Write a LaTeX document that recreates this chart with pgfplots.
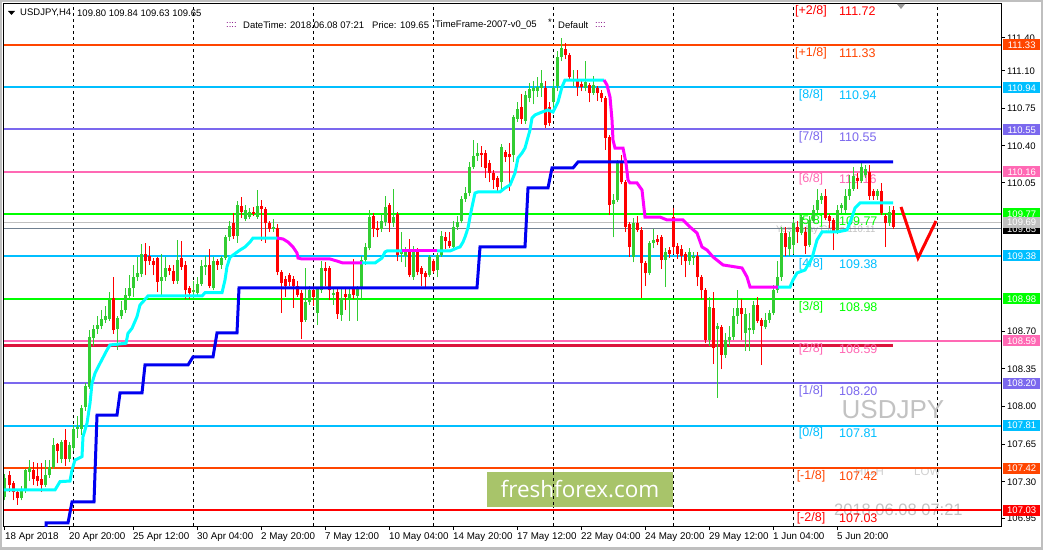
\documentclass[border=0pt]{standalone}
\usepackage{fontspec}
\setmainfont{Liberation Sans}
\newfontfamily\osans{Open Sans}
\usepackage{pgfplots}
\usepackage{pgfplotstable}
\pgfplotsset{compat=1.18}

\definecolor{lvOrange}{HTML}{FF4500}
\definecolor{lvSky}{HTML}{00BFFF}
\definecolor{lvSlate}{HTML}{7B68EE}
\definecolor{lvPink}{HTML}{FF69B4}
\definecolor{lvLime}{HTML}{00FF00}
\definecolor{lvRed}{HTML}{FF0000}
\definecolor{lvCrimson}{HTML}{DC143C}
\definecolor{bidGray}{HTML}{708090}
\definecolor{lineSilver}{HTML}{C0C0C0}
\definecolor{upC}{HTML}{32CD32}
\definecolor{dnC}{HTML}{FF0000}
\definecolor{stepBlue}{HTML}{0000F0}
\definecolor{trUp}{HTML}{00FFFF}
\definecolor{trDn}{HTML}{FF00FF}
\definecolor{wmGreen}{HTML}{A8C46A}
\definecolor{txtGray}{HTML}{C2C2C2}
\definecolor{hlGray}{HTML}{D0D0D0}
\definecolor{dotPurple}{HTML}{800080}

% H4 candles closing up (c >= o): x = bar position, o h l c
\pgfplotstableread{
x o h l c
5 107.15 107.36 107.12 107.33
21 107.14 107.25 107.12 107.21
25 107.21 107.41 107.19 107.40
29 107.38 107.49 107.30 107.42
45 107.26 107.49 107.24 107.35
49 107.35 107.49 107.33 107.43
53 107.43 107.70 107.41 107.63
61 107.50 107.68 107.46 107.66
69 107.50 107.66 107.47 107.63
73 107.60 107.82 107.58 107.78
77 107.78 107.90 107.70 107.80
81 107.78 108.00 107.72 107.97
85 107.98 108.20 107.95 108.18
89 108.17 108.69 108.15 108.63
93 108.62 108.74 108.55 108.70
97 108.70 108.82 108.66 108.74
101 108.73 108.88 108.70 108.80
105 108.79 108.92 108.76 108.82
109 108.80 109.05 108.78 108.97
117 108.70 108.82 108.51 108.81
121 108.82 108.96 108.80 108.88
125 108.88 109.08 108.85 109.02
129 109.01 109.20 108.98 109.08
133 109.08 109.30 109.00 109.18
137 109.18 109.37 109.15 109.22
141 109.21 109.49 109.18 109.40
161 109.15 109.40 109.00 109.18
165 109.18 109.37 109.15 109.27
177 109.15 109.53 109.12 109.34
193 109.05 109.15 108.98 109.06
197 109.04 109.18 109.02 109.12
201 109.12 109.34 109.10 109.29
205 109.28 109.38 109.20 109.30
213 109.08 109.37 109.06 109.33
221 109.30 109.38 109.26 109.36
225 109.36 109.57 109.34 109.55
229 109.55 109.70 109.52 109.66
237 109.56 109.89 109.50 109.85
245 109.72 109.85 109.70 109.80
249 109.74 109.82 109.72 109.79
257 109.74 109.99 109.72 109.84
273 109.63 109.72 109.60 109.65
305 108.79 109.27 108.77 108.95
309 108.95 109.10 108.93 109.06
317 108.85 109.09 108.74 109.07
321 109.06 109.33 109.04 109.27
333 109.02 109.07 108.93 109.04
341 108.83 109.08 108.78 108.99
349 108.99 109.09 108.78 109.03
357 109.01 109.10 108.78 109.07
361 109.07 109.38 108.97 109.34
365 109.34 109.50 109.30 109.46
369 109.45 109.80 109.43 109.74
381 109.63 109.77 109.60 109.70
385 109.69 109.93 109.66 109.83
393 109.68 110.00 109.65 109.74
401 109.40 109.60 109.32 109.42
405 109.38 109.46 109.28 109.44
413 109.18 109.47 109.16 109.42
429 109.20 109.39 109.18 109.37
437 109.25 109.41 109.18 109.39
441 109.39 109.61 109.37 109.56
453 109.46 109.70 109.44 109.65
457 109.65 109.75 109.62 109.69
461 109.70 109.93 109.68 109.91
465 109.91 110.02 109.88 109.96
469 109.96 110.25 109.93 110.20
473 110.20 110.45 110.18 110.30
477 110.30 110.42 110.26 110.33
501 110.06 110.41 110.00 110.39
513 110.31 110.68 110.25 110.66
517 110.65 110.80 110.62 110.74
525 110.63 110.90 110.60 110.87
529 110.84 110.98 110.80 110.92
533 110.90 111.00 110.78 110.93
537 110.90 111.03 110.85 110.94
541 110.93 111.10 110.85 110.98
553 110.80 111.00 110.75 110.93
557 110.95 111.27 110.90 111.22
561 111.22 111.39 111.18 111.30
573 111.00 111.10 110.95 111.02
585 110.93 111.18 110.90 110.99
593 110.89 111.04 110.87 110.96
613 109.86 109.95 109.55 109.90
617 109.90 110.27 109.88 110.24
633 109.37 109.73 109.32 109.68
649 109.22 109.52 109.20 109.50
653 109.50 109.63 109.45 109.53
665 109.34 109.45 109.09 109.42
689 109.33 109.45 109.30 109.42
693 109.36 109.42 109.30 109.38
709 108.60 109.00 108.55 108.91
717 108.70 108.76 108.07 108.73
725 108.46 108.67 108.44 108.60
729 108.60 108.73 108.55 108.63
733 108.63 108.90 108.60 108.82
737 108.82 109.06 108.75 108.90
745 108.67 108.90 108.50 108.84
749 108.69 108.85 108.50 108.71
753 108.69 108.96 108.66 108.93
765 108.72 108.85 108.70 108.79
769 108.79 108.88 108.76 108.85
773 108.85 109.11 108.83 109.06
777 109.06 109.33 109.04 109.18
781 109.18 109.65 109.15 109.59
789 109.44 109.60 109.38 109.55
793 109.48 109.72 109.40 109.68
801 109.59 109.78 109.57 109.74
809 109.48 109.75 109.46 109.71
813 109.70 109.85 109.68 109.80
817 109.80 110.00 109.78 109.90
821 109.90 109.96 109.86 109.93
837 109.60 109.85 109.58 109.80
841 109.82 109.87 109.78 109.85
845 109.80 110.00 109.78 109.93
849 109.93 110.13 109.90 110.00
853 110.00 110.20 109.98 110.12
861 110.07 110.24 110.05 110.20
865 110.13 110.22 110.10 110.18
877 109.93 110.00 109.90 109.98
889 109.68 109.84 109.66 109.79
}\upbars

% H4 candles closing down (c < o)
\pgfplotstableread{
x o h l c
9 107.35 107.39 107.20 107.26
13 107.28 107.30 107.12 107.20
17 107.20 107.22 107.08 107.14
33 107.40 107.47 107.26 107.32
37 107.34 107.46 107.25 107.30
41 107.32 107.46 107.20 107.26
57 107.64 107.65 107.46 107.58
65 107.68 107.78 107.44 107.50
113 108.99 109.18 108.66 108.69
145 109.40 109.50 109.20 109.33
149 109.38 109.47 109.30 109.33
153 109.33 109.36 109.20 109.30
157 109.36 109.37 109.05 109.14
169 109.27 109.30 109.20 109.24
173 109.24 109.30 109.12 109.15
181 109.36 109.52 109.25 109.28
185 109.30 109.33 108.98 109.06
189 109.08 109.10 108.98 109.04
209 109.30 109.44 109.08 109.10
217 109.33 109.35 109.25 109.30
233 109.68 109.78 109.54 109.56
241 109.84 109.92 109.73 109.79
253 109.79 109.83 109.75 109.77
261 109.84 109.90 109.52 109.81
265 109.81 109.83 109.50 109.68
269 109.68 109.70 109.60 109.63
277 109.64 109.67 109.20 109.23
281 109.23 109.25 108.85 109.13
285 109.17 109.19 109.00 109.10
289 109.20 109.22 109.10 109.14
293 109.17 109.19 108.90 109.10
297 109.10 109.15 109.00 109.02
301 109.04 109.06 108.61 108.77
313 109.06 109.10 108.92 109.00
325 109.27 109.32 109.10 109.24
329 109.27 109.29 108.97 109.06
337 109.05 109.07 108.80 108.84
345 109.03 109.08 108.88 109.00
353 109.08 109.35 108.98 109.02
373 109.75 109.78 109.55 109.63
377 109.64 109.70 109.55 109.62
389 109.85 109.87 109.60 109.68
397 109.77 109.79 109.33 109.39
409 109.44 109.54 109.18 109.20
417 109.42 109.45 109.20 109.23
421 109.27 109.29 109.10 109.21
425 109.22 109.24 109.08 109.18
433 109.33 109.35 109.22 109.24
445 109.55 109.60 109.44 109.52
449 109.52 109.60 109.45 109.47
481 110.33 110.40 110.20 110.31
485 110.33 110.36 110.10 110.19
489 110.24 110.27 110.06 110.15
493 110.15 110.17 110.00 110.08
497 110.10 110.12 109.97 110.02
505 110.34 110.36 110.25 110.29
509 110.32 110.42 109.98 110.29
521 110.76 110.88 110.60 110.65
545 110.93 111.00 110.56 110.59
549 110.76 110.80 110.58 110.61
565 111.29 111.35 111.20 111.24
569 111.24 111.26 111.00 111.03
577 111.02 111.10 110.86 110.94
581 110.97 111.00 110.90 110.94
589 110.96 110.98 110.80 110.89
597 110.93 110.95 110.81 110.89
601 110.89 110.91 110.80 110.84
605 110.84 110.86 110.36 110.47
609 110.48 110.50 109.76 109.85
621 110.24 110.31 110.04 110.06
625 110.06 110.08 109.60 109.65
629 109.67 109.69 109.37 109.46
637 109.68 109.75 109.60 109.62
641 109.62 109.65 108.99 109.31
645 109.31 109.33 109.10 109.22
657 109.54 109.57 109.48 109.51
661 109.55 109.57 109.26 109.34
669 109.43 109.46 109.36 109.40
673 109.74 109.82 109.40 109.46
677 109.47 109.50 109.35 109.40
681 109.44 109.48 109.30 109.38
685 109.40 109.42 109.18 109.33
697 109.38 109.42 109.10 109.18
701 109.18 109.20 108.98 109.06
705 109.06 109.08 108.57 108.60
713 108.90 109.05 108.38 108.53
721 108.72 108.74 108.33 108.46
741 108.90 108.98 108.60 108.84
757 108.93 109.00 108.76 108.78
761 108.79 108.81 108.37 108.73
785 109.59 109.65 109.38 109.46
797 109.65 109.70 109.50 109.60
805 109.60 109.65 109.40 109.47
825 109.93 110.00 109.71 109.73
829 109.75 109.77 109.64 109.70
833 109.71 109.73 109.43 109.61
857 110.10 110.15 110.00 110.07
869 110.16 110.22 109.90 109.93
873 109.98 110.00 109.90 109.93
881 109.98 110.05 109.76 109.78
885 109.75 109.77 109.46 109.68
893 109.80 109.84 109.63 109.65
}\dnbars

\pgfplotsset{
  lvl/.style={#1, line width=2pt, forget plot},
  stick/.style 2 args={draw=none, mark=none, forget plot,
    error bars/y dir=plus, error bars/y explicit, error bars/error mark=none,
    error bars/error bar style={line width=#2, draw=#1, solid}},
}
\newcommand\lvtxt[3]{%
  \node[text=#1, inner sep=0pt, yshift=-8pt, font=\fontsize{12.5}{14}\selectfont] at (axis cs:811,#2) {[#3]};
  \node[text=#1, anchor=west, inner sep=0pt, yshift=-8pt, font=\fontsize{12.5}{14}\selectfont] at (axis cs:839,#2) {#2};}

\begin{document}
\begin{tikzpicture}[x=1pt, y=1pt]
\useasboundingbox (0,0) rectangle (1043,549);
\fill[white] (0,0) rectangle (1043,549);

\begin{axis}[
  at={(4pt,23pt)}, anchor=south west,
  scale only axis, width=997pt, height=522pt,
  xmin=4, xmax=1001, ymin=106.882, ymax=111.709,
  axis line style={line width=1pt},
  tick align=outside, major tick length=4pt,
  tick style={black, line width=1pt},
  xtick pos=bottom, ytick pos=right, yticklabel pos=right,
  xtick={5,69,133,197,261,325,389,453,517,581,645,709,773,837},
  xticklabels={18 Apr 2018,20 Apr 20:00,25 Apr 12:00,30 Apr 04:00,2 May 20:00,7 May 12:00,10 May 04:00,14 May 20:00,17 May 12:00,22 May 04:00,24 May 20:00,29 May 12:00,1 Jun 04:00,5 Jun 20:00},
  xticklabel style={anchor=north west, inner sep=0pt, yshift=-2pt, font=\fontsize{9.8}{11}\selectfont},
  ytick={111.395,111.09,110.747,110.396,110.054,108.685,108.334,107.99,107.64,107.29,106.95},
  yticklabels={111.40,111.10,110.75,110.40,110.05,108.70,108.35,108.00,107.65,107.30,106.95},
  yticklabel style={anchor=west, inner sep=0pt, xshift=2pt, font=\fontsize{9.5}{11}\selectfont},
  extra x ticks={73,193,313,433,553,673,793,937},
  extra x tick labels={},
  extra x tick style={grid=major, major tick length=0pt,
    major grid style={black, line width=0.8pt, dash pattern=on 3pt off 3pt}},
]

% watermark
\fill[wmGreen] (axis cs:487,107.381) rectangle (axis cs:673,107.058);
\node[text=white, inner sep=0pt, font=\osans\fontsize{22.5}{26}\selectfont] at (axis cs:580,107.225) {freshforex.com};
\draw[black, line width=0.8pt, dash pattern=on 3pt off 3pt] (axis cs:553,107.381) -- (axis cs:553,107.058);

% faint labels
\node[anchor=west, inner sep=0pt, text=txtGray, font=\fontsize{9.5}{11}\selectfont] at (axis cs:776,109.619) {Yesterday Close 110.11};
\node[inner sep=0pt, text=txtGray, font=\fontsize{26}{30}\selectfont] at (axis cs:893,107.955) {USDJPY};
\node[anchor=west, inner sep=0pt, text=hlGray, font=\fontsize{11.5}{13}\selectfont] at (axis cs:855,107.39) {HIGH};
\node[anchor=west, inner sep=0pt, text=hlGray, font=\fontsize{11.5}{13}\selectfont] at (axis cs:914,107.39) {LOW};
\node[anchor=west, inner sep=0pt, text=txtGray, font=\fontsize{16.5}{19}\selectfont] at (axis cs:834,107.03) {2018.06.08 07:21};

% Murrey levels and price lines
\addplot[lvl=lvOrange] coordinates {(4,111.33) (1001,111.33)};
\addplot[lvl=lvSky] coordinates {(4,110.94) (1001,110.94)};
\addplot[lvl=lvSlate] coordinates {(4,110.55) (1001,110.55)};
\addplot[lvl=lvPink] coordinates {(4,110.16) (1001,110.16)};
\addplot[lvl=lvLime] coordinates {(4,109.77) (1001,109.77)};
\addplot[lvl=lvSky] coordinates {(4,109.38) (1001,109.38)};
\addplot[lvl=lvLime] coordinates {(4,108.98) (1001,108.98)};
\addplot[lvl=lvPink] coordinates {(4,108.59) (1001,108.59)};
\addplot[lvl=lvSlate] coordinates {(4,108.20) (1001,108.20)};
\addplot[lvl=lvSky] coordinates {(4,107.81) (1001,107.81)};
\addplot[lvl=lvOrange] coordinates {(4,107.42) (1001,107.42)};
\addplot[lvl=lvRed] coordinates {(4,107.03) (1001,107.03)};
\addplot[lineSilver, line width=1pt, forget plot] coordinates {(4,109.685) (1001,109.685)};
\addplot[bidGray, line width=1pt, forget plot] coordinates {(4,109.637) (1001,109.637)};
\addplot[lvCrimson, line width=3pt, forget plot] coordinates {(4,108.548) (893,108.548)};

% level captions
\lvtxt{lvRed}{111.72}{+2/8}
\lvtxt{lvOrange}{111.33}{+1/8}
\lvtxt{lvSky}{110.94}{8/8}
\lvtxt{lvSlate}{110.55}{7/8}
\lvtxt{lvPink}{110.16}{6/8}
\lvtxt{lvLime}{109.77}{5/8}
\lvtxt{lvSky}{109.38}{4/8}
\lvtxt{lvLime}{108.98}{3/8}
\lvtxt{lvPink}{108.59}{2/8}
\lvtxt{lvSlate}{108.20}{1/8}
\lvtxt{lvSky}{107.81}{0/8}
\lvtxt{lvOrange}{107.42}{-1/8}
\lvtxt{lvRed}{107.03}{-2/8}

% candles: wick from low to high, body from open to close
\addplot[stick={upC}{1pt}] table[x=x, y=l, y error expr=\thisrow{h}-\thisrow{l}] {\upbars};
\addplot[stick={upC}{3pt}] table[x=x, y=o, y error expr={max(\thisrow{c}-\thisrow{o},0.009)}] {\upbars};
\addplot[stick={dnC}{1pt}] table[x=x, y=l, y error expr=\thisrow{h}-\thisrow{l}] {\dnbars};
\addplot[stick={dnC}{3pt}] table[x=x, y=c, y error expr={max(\thisrow{o}-\thisrow{c},0.009)}] {\dnbars};

% step line
\addplot[stepBlue, line width=3pt, forget plot] coordinates {
  (46,106.845) (46,106.91) (68,106.91) (72,107.104) (94,107.104) (97,107.908)
  (117,107.908) (120,108.112) (142,108.112) (145,108.371) (188,108.371) (193,108.445)
  (213,108.445) (217,108.667) (237,108.667) (239,109.083) (477,109.083) (480,109.462)
  (525,109.462) (528,110.008) (548,110.008) (552,110.193) (573,110.193) (578,110.248)
  (893,110.248)};

% trend line: cyan up, magenta down
\addplot[trUp, line width=3pt, forget plot] coordinates {
  (4,107.215) (55,107.215) (60,107.292) (70,107.298) (72,107.40) (75,107.492)
  (82,107.523) (83,107.708) (87,107.832) (90,108.017) (92,108.202) (95,108.294)
  (100,108.386) (107,108.51) (110,108.556) (126,108.572) (128,108.664) (132,108.71)
  (137,108.818) (140,108.926) (143,108.956) (148,109.009) (202,109.009) (205,109.039)
  (222,109.039) (225,109.157) (227,109.28) (230,109.367) (240,109.434) (245,109.462)
  (250,109.508) (253,109.545) (277,109.545)};
\addplot[trDn, line width=3pt, forget plot] coordinates {
  (277,109.545) (283,109.536) (288,109.508) (293,109.462) (297,109.406) (298,109.36)
  (302,109.351) (330,109.351) (337,109.332) (343,109.314) (362,109.314)};
\addplot[trUp, line width=3pt, forget plot] coordinates {
  (362,109.314) (375,109.314) (382,109.36) (385,109.416) (387,109.425) (402,109.425)};
\addplot[trDn, line width=3pt, forget plot] coordinates {
  (402,109.425) (437,109.425)};
\addplot[trUp, line width=3pt, forget plot] coordinates {
  (437,109.425) (450,109.425) (457,109.453) (460,109.462) (463,109.508) (465,109.554)
  (468,109.638) (470,109.739) (472,109.832) (475,109.961) (478,109.971) (500,109.971)
  (505,110.008) (510,110.035) (515,110.146) (518,110.285) (522,110.331) (525,110.377)
  (530,110.544) (532,110.655) (535,110.683) (542,110.71) (548,110.729) (553,110.71)
  (558,110.803) (562,110.942) (565,111.006) (604,111.006)};
\addplot[trDn, line width=3pt, forget plot] coordinates {
  (604,111.006) (607,110.96) (610,110.849) (612,110.636) (613,110.451) (615,110.377)
  (623,110.377) (626,110.239) (628,110.081) (630,110.054) (637,110.054) (642,109.989)
  (645,109.739) (660,109.739) (667,109.712) (683,109.712) (690,109.647) (697,109.591)
  (702,109.462) (707,109.434) (713,109.37) (723,109.296) (742,109.268) (747,109.185)
  (750,109.092) (778,109.092)};
\addplot[trUp, line width=3pt, forget plot] coordinates {
  (778,109.092) (790,109.092) (793,109.157) (797,109.222) (805,109.249) (812,109.36)
  (817,109.527) (822,109.601) (837,109.601) (847,109.619) (852,109.739) (855,109.823)
  (860,109.869) (893,109.869)};

% forecast mark
\addplot[lvRed, line width=3pt, forget plot] coordinates {(901,109.832) (918,109.36) (936,109.702)};
\end{axis}

% header
\fill[black] (8,538) -- (15,538) -- (11.5,534) -- cycle;
\begin{scope}[every node/.style={anchor=west, inner sep=0pt, font=\fontsize{9.5}{11}\selectfont}]
\node at (20,536) {USDJPY,H4};
\node at (77,536) {109.80 109.84 109.63 109.65};
\node[text=dotPurple] at (226,524) {::::};
\node at (243,524) {DateTime: 2018.06.08 07:21};
\node at (372,524) {Price: 109.65};
\node at (435,524) {TimeFrame-2007-v0\_05};
\node at (548,527) {*};
\node at (558,524) {Default};
\node[text=dotPurple] at (595,524) {::::};
\end{scope}
\fill[gray!80] (897,545) -- (905,545) -- (901,540) -- cycle;

% right-hand price tags
\begin{scope}[every node/.style={anchor=west, inner sep=0pt, minimum width=37pt, minimum height=11pt, text=white, font=\fontsize{9.5}{11}\selectfont}]
\node[fill=lvOrange] at (1003,504) {111.33};
\node[fill=lvSky] at (1003,461) {110.94};
\node[fill=lvSlate] at (1003,419) {110.55};
\node[fill=lvPink] at (1003,377) {110.16};
\node[fill=lvLime] at (1003,335) {109.77};
\node[fill=black] at (1003,320) {109.65};
\node[fill=lineSilver] at (1003,326.5) {109.69};
\node[fill=lvSky] at (1003,293) {109.38};
\node[fill=lvLime] at (1003,250) {108.98};
\node[fill=lvPink] at (1003,208) {108.59};
\node[fill=lvSlate] at (1003,166) {108.20};
\node[fill=lvSky] at (1003,124) {107.81};
\node[fill=lvOrange] at (1003,81) {107.42};
\node[fill=lvRed] at (1003,39) {107.03};
\end{scope}

\draw[black!25, line width=4pt] (0,0) rectangle (1043,549);
\end{tikzpicture}
\end{document}
